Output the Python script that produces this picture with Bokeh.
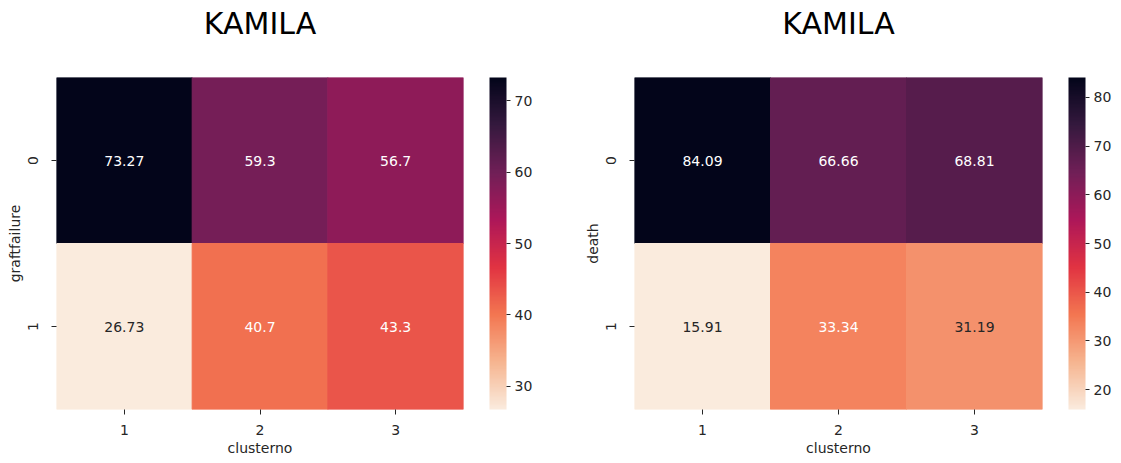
from bokeh.plotting import figure
from bokeh.layouts import row
from bokeh.models import (ColumnDataSource, LinearColorMapper, ColorBar, FixedTicker,
                          FactorRange, Title)
from bokeh.transform import transform
from bokeh.core.properties import value
from bokeh.embed import file_html
from bokeh.resources import INLINE

# ---------------- data ----------------
clusters = ["1", "2", "3"]
rows = ["0", "1"]

graft_row0 = [73.27, 59.3, 56.7]
graft_row1 = [26.73, 40.7, 43.3]
graft_cbar_ticks = [30, 40, 50, 60, 70]

death_row0 = [84.09, 66.66, 68.81]
death_row1 = [15.91, 33.34, 31.19]
death_cbar_ticks = [20, 30, 40, 50, 60, 70, 80]

title_text = "KAMILA"
x_label = "clusterno"
y_labels = ["graftfailure", "death"]

# ---------------- colormap (rocket, reversed) ----------------
rocket_anchors = ["#03051a", "#35193e", "#701f57", "#ad1759",
                  "#e13342", "#f37651", "#f6b48f", "#faebdd"]


def hex2rgb(h):
    return tuple(int(h[i:i + 2], 16) for i in (1, 3, 5))


def build_palette(anchors, n=256):
    rgb = [hex2rgb(a) for a in anchors]
    m = len(rgb) - 1
    out = []
    for i in range(n):
        t = i / (n - 1) * m
        k = min(int(t), m - 1)
        f = t - k
        c = [round(rgb[k][j] + (rgb[k + 1][j] - rgb[k][j]) * f) for j in range(3)]
        out.append("#%02x%02x%02x" % tuple(c))
    return out


rocket_r = build_palette(rocket_anchors)[::-1]


def lum(hexc):
    r, g, b = hex2rgb(hexc)
    def lin(c):
        c = c / 255
        return c / 12.92 if c <= 0.03928 else ((c + 0.055) / 1.055) ** 2.4
    return 0.2126 * lin(r) + 0.7152 * lin(g) + 0.0722 * lin(b)


FONT = "DejaVu Sans"
TXT = "#262626"


def heat(row0, row1, ylab, ticks, fw, fh, bl, br, bb, spacer, tstand):
    vals = row0 + row1
    lo, hi = min(vals), max(vals)
    xs = clusters * 2
    ys = [rows[0]] * 3 + [rows[1]] * 3
    n = len(rocket_r)
    tcol = []
    for v in vals:
        idx = min(n - 1, int((v - lo) / (hi - lo) * n))
        tcol.append(TXT if lum(rocket_r[idx]) > 0.39 else "#ffffff")
    src = ColumnDataSource(dict(x=xs, y=ys, v=vals,
                                lab=["{:g}".format(v) for v in vals], tc=tcol))
    mapper = LinearColorMapper(palette=rocket_r, low=lo, high=hi)

    p = figure(x_range=FactorRange(*clusters), y_range=FactorRange(*rows[::-1]),
               frame_width=fw, frame_height=fh, min_border_left=bl,
               min_border_top=0, min_border_right=br, min_border_bottom=bb,
               output_backend="svg", toolbar_location=None, tools="",
               title=title_text)
    p.x_range.range_padding = 0
    p.y_range.range_padding = 0
    p.rect(x="x", y="y", width=1, height=1, source=src,
           fill_color=transform("v", mapper),
           line_color=transform("v", mapper), line_width=1)
    p.text(x="x", y="y", text="lab", source=src, text_align="center",
           text_baseline="middle", text_color="tc",
           text_font=value(FONT), text_font_size="14px")

    # real title (outermost) and an invisible spacer title next to the frame
    p.title.text_font = FONT
    p.title.text_font_size = "30px"
    p.title.text_font_style = "normal"
    p.title.text_color = "#000000"
    p.title.align = "center"
    p.title.standoff = tstand
    p.add_layout(Title(text=" ", text_font_size="1px", standoff=spacer), "above")

    p.grid.visible = False
    p.outline_line_color = None
    for ax in (p.xaxis, p.yaxis):
        ax.axis_line_color = None
        ax.major_tick_in = 0
        ax.major_tick_out = 5
        ax.major_tick_line_color = TXT
        ax.minor_tick_line_color = None
        ax.major_label_text_font = FONT
        ax.major_label_text_font_size = "14px"
        ax.major_label_text_color = TXT
        ax.axis_label_text_font = FONT
        ax.axis_label_text_font_size = "14px"
        ax.axis_label_text_font_style = "normal"
        ax.axis_label_text_color = TXT
    p.xaxis.major_label_standoff = 10
    p.xaxis.axis_label_standoff = 2
    p.yaxis.major_label_standoff = 14
    p.yaxis.axis_label_standoff = 2
    p.xaxis.axis_label = x_label
    p.yaxis.axis_label = ylab
    p.yaxis.major_label_orientation = "vertical"

    cb = ColorBar(color_mapper=mapper, ticker=FixedTicker(ticks=ticks),
                  width=17, height=fh, padding=0, margin=0,
                  bar_line_color=None, major_tick_in=0, major_tick_out=4,
                  major_tick_line_color=TXT, minor_tick_line_color=None,
                  major_label_text_font=FONT, major_label_text_font_size="14px",
                  major_label_text_color=TXT, label_standoff=4,
                  location=(26, 0))
    p.add_layout(cb, "right")
    return p


p1 = heat(graft_row0, graft_row1, y_labels[0], graft_cbar_ticks,
          407, 332, 56, 97, 50, 30, 7)
p2 = heat(death_row0, death_row1, y_labels[1], death_cbar_ticks,
          408, 332, 74, 50, 50, 30, 7)

layout = row(p1, p2)
open("out.html", "w").write(file_html(layout, INLINE))
